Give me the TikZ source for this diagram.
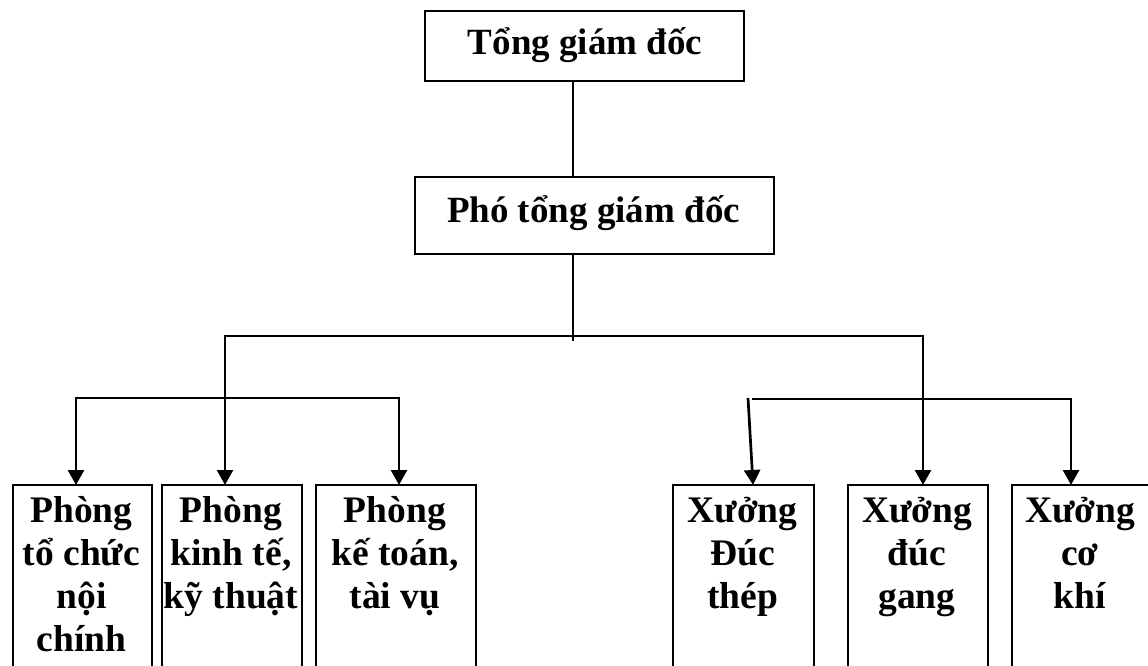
\documentclass[tikz,border=0pt]{standalone}
\usepackage{fontspec}
\setmainfont{Liberation Serif}
\usetikzlibrary{arrows.meta}
\newcommand\boxfont{\fontsize{37.5}{43}\selectfont\bfseries}
\newcommand\headfont{\fontsize{37}{43}\selectfont\bfseries}
\tikzset{
  orgbox/.style={draw, line width=2.4pt, inner sep=0pt, anchor=north west},
  headtext/.style={font=\headfont, inner sep=0pt, anchor=base},
  celltext/.style={font=\boxfont, inner sep=0pt, anchor=base},
  link/.style={line width=2.2pt},
  arr/.style={line width=2.7pt, line join=miter, shorten >=-1pt, shorten <=-1pt},
  orgtip/.tip={Triangle[length=15pt 0,width=16pt 0]}
}
\begin{document}
\begin{tikzpicture}[x=1pt,y=-1pt]
\useasboundingbox (0,0) rectangle (1148,666);
\clip (0,0) rectangle (1148,666);
% boxes
\node[orgbox, minimum width=319pt, minimum height=70pt] (tgd) at (424,10) {};
\node[orgbox, minimum width=359pt, minimum height=77pt] (pgd) at (414,176) {};
\node[orgbox, minimum width=139pt, minimum height=260pt] (p1) at (12,484) {};
\node[orgbox, minimum width=140pt, minimum height=260pt] (p2) at (161,484) {};
\node[orgbox, minimum width=160pt, minimum height=260pt] (p3) at (315,484) {};
\node[orgbox, minimum width=141pt, minimum height=260pt] (x4) at (672,484) {};
\node[orgbox, minimum width=140pt, minimum height=260pt] (x5) at (847,484) {};
\node[orgbox, minimum width=140pt, minimum height=260pt] (x6) at (1011,484) {};
% texts
\node[headtext] (t0) at (585,55) {Tổng giám đốc};
\node[headtext] (t1) at (593.5,222) {Phó tổng giám đốc};
\node[celltext] (tp1) at (81.5,522) {\begin{tabular}[t]{@{}c@{}}Phòng\\tổ chức\\nội\\chính\end{tabular}};
\node[celltext] (tp2) at (231,522) {\begin{tabular}[t]{@{}c@{}}Phòng\\kinh tế,\\kỹ thuật\end{tabular}};
\node[celltext] (tp3) at (395,522) {\begin{tabular}[t]{@{}c@{}}Phòng\\kế toán,\\tài vụ\end{tabular}};
\node[celltext] (tx4) at (742.5,522) {\begin{tabular}[t]{@{}c@{}}Xưởng\\Đúc\\thép\end{tabular}};
\node[celltext] (tx5) at (917,522) {\begin{tabular}[t]{@{}c@{}}Xưởng\\đúc\\gang\end{tabular}};
\node[celltext] (tx6) at (1080,522) {\begin{tabular}[t]{@{}c@{}}Xưởng\\cơ\\khí\end{tabular}};
% junction points
\coordinate (j0) at (573,336);
\coordinate (j0b) at (573,341);
\coordinate (hl) at (225,336);
\coordinate (hr) at (923,336);
\coordinate (gl) at (76,398);
\coordinate (gr) at (399,398);
\coordinate (kl) at (752,399);
\coordinate (kr) at (1071,399);
\coordinate (ks) at (748,398);
\coordinate (ke) at (753,484);
% connectors
\draw[link] (tgd.south -| j0) -- (pgd.north -| j0);
\draw[link] (pgd.south -| j0) -- (j0b);
\draw[arr, line width=2.4pt, {orgtip}-{orgtip}] (hl |- p2.north) -- (hl) -- (hr) -- (hr |- x5.north);
\draw[arr, {orgtip}-{orgtip}] (gl |- p1.north) -- (gl) -- (gr) -- (gr |- p3.north);
\draw[arr, shorten <=0pt, -{orgtip}] (kl) -- (kr) -- (kr |- x6.north);
\draw[arr, shorten <=0pt, -{orgtip}] (ks) -- (ke);
\end{tikzpicture}
\end{document}
